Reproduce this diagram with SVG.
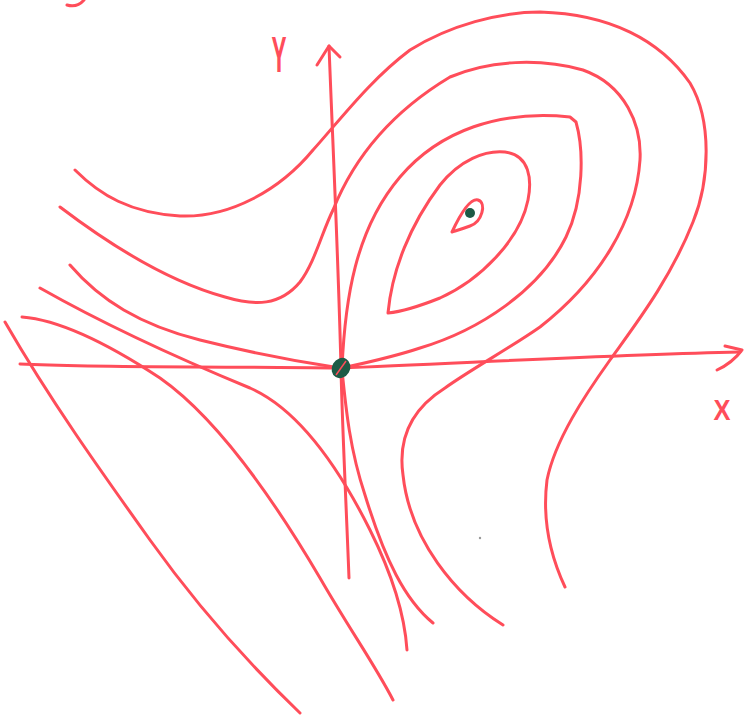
<svg xmlns="http://www.w3.org/2000/svg" width="747" height="719" viewBox="0 0 747 719">
<style>
.ln{fill:none;stroke:#ff4d5a;stroke-width:3;stroke-linecap:round;stroke-linejoin:round}
.lbl{font-family:"Liberation Sans",Arial,sans-serif;font-weight:bold;fill:#ff4d5a;text-anchor:middle}
.pt{fill:#1d5a45}
</style>
<rect width="747" height="719" fill="#ffffff"/>
<path class="ln" d="M67,5 Q77,8 84,0"/>
<g id="axes">
<path class="ln" d="M20,364 C100,368 200,366 340,368 C450,364 600,355 740,352"/>
<path class="ln" d="M725,346 L742,350 M717,370 C728,365 736,358 742,350"/>
<path class="ln" d="M349,578 C346,500 342,420 341,368 C338,250 333,150 329,46"/>
<path class="ln" d="M317,65 L329,46 L340,57"/>
</g>
<g id="trajectories">
<path class="ln" d="M75,170 C100,195 130,213 180,216 C230,218 280,190 313,150 C340,120 370,80 410,50 C450,25 500,12 540,12 C610,14 660,40 690,83 C712,120 710,180 693,222 C670,280 635,325 610,360 C585,395 555,440 547,480 C542,520 550,555 565,587"/>
<path class="ln" d="M60,207 C110,245 170,282 225,297 C255,306 280,306 300,282 C315,262 322,232 333,210 C355,155 395,110 450,77 C490,60 540,58 583,70 C625,85 642,125 640,160 C636,220 600,280 540,327 C510,348 470,370 445,388 C410,410 398,440 403,475 C410,540 455,595 503,625"/>
<path class="ln" d="M342,368 C345,300 355,230 400,177 C440,130 500,110 570,117 L576,122 C584,150 584,200 566,237 C540,290 480,330 420,348 C390,358 360,364 342,368"/>
<path class="ln" d="M388,313 C392,270 410,225 440,185 C460,160 485,150 505,152 C530,155 532,180 528,200 C520,240 480,280 440,298 C415,308 398,312 388,313 Z"/>
<path class="ln" d="M452,232 C460,215 470,198 478,200 C487,203 482,222 470,226 C462,229 455,231 452,232 Z"/>
<path class="ln" d="M70,265 C100,300 140,325 200,340 C260,355 300,362 340,368"/>
<path class="ln" d="M342,370 C346,410 350,450 365,495 C385,560 405,600 433,623"/>
<path class="ln" d="M40,288 C100,322 170,355 250,388 C300,410 340,470 370,530 C395,580 405,620 407,650"/>
<path class="ln" d="M22,317 C60,320 110,345 160,378 C220,420 280,510 320,578 C350,630 375,665 393,700"/>
<path class="ln" d="M5,322 C50,400 100,470 150,540 C200,610 250,665 300,713"/>
</g>
<g id="points">
<ellipse class="pt" cx="341" cy="368" rx="9" ry="10.5" transform="rotate(30 341 368)"/>
<path d="M336,375 L346,361" stroke="#ff4d5a" stroke-width="1.5" fill="none"/>
<circle class="pt" cx="470" cy="213" r="5"/>
<circle cx="480" cy="538" r="1.2" fill="#999"/>
</g>
<g id="labels">
<text class="lbl" font-size="50" transform="translate(279,72) scale(0.45,1)">Y</text>
<text class="lbl" font-size="30" transform="translate(722,420) scale(0.85,1)">X</text>
</g>
</svg>
